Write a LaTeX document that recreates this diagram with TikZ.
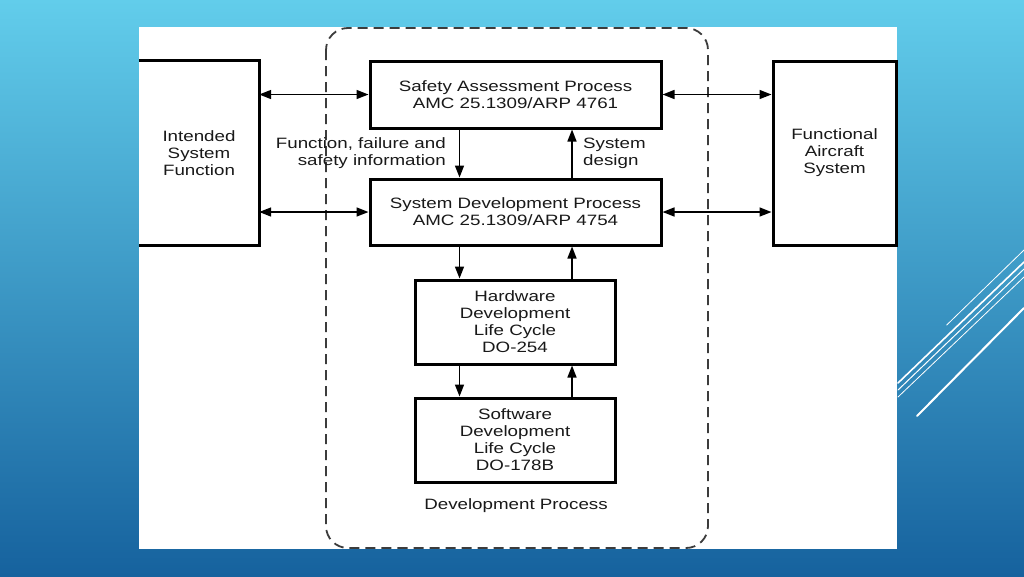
\documentclass[tikz,border=0pt]{standalone}
\usepackage{fontspec}
\setmainfont[FakeStretch=1.25]{Liberation Sans}
\usetikzlibrary{arrows.meta}
\definecolor{bgtop}{RGB}{98,205,235}
\definecolor{bgbot}{RGB}{22,98,158}
\definecolor{dashcol}{RGB}{60,60,60}
\definecolor{txtcol}{RGB}{25,25,25}
\tikzset{
  box/.style={draw=black, line width=3pt, fill=white, inner sep=0pt, align=center},
  openbox/.style={draw=none, inner sep=0pt, align=center},
  lbl/.style={inner sep=0pt},
  arr/.style={line width=1.6pt, -{Triangle[length=12pt,width=9pt]}},
  darr/.style={line width=1.6pt, {Triangle[length=12pt,width=9pt]}-{Triangle[length=12pt,width=9pt]}},
  deco/.style={white, line cap=round},
  txt/.style={font=\fontsize{15}{17}\selectfont, text=txtcol}
}
\begin{document}
\begin{tikzpicture}[x=1pt,y=-1pt]
\useasboundingbox (0,0) rectangle (1024,576);
\shade[top color=bgtop, bottom color=bgbot] (0,0) rectangle (1024,576);
% decorative lines
\draw[deco, line width=0.8pt] (946.7,325) -- (1024,250);
\draw[deco, line width=1.6pt] (898,383) -- (1024,262);
\draw[deco, line width=1pt] (898,390) -- (1024,269);
\draw[deco, line width=0.8pt] (898,397) -- (1024,277);
\draw[deco, line width=2pt] (917,416) -- (1024,308);
% white panel
\fill[white] (139,27) rectangle (897,549);
% dashed development process frame
\draw[dashcol, line width=1.8pt, dash pattern=on 10pt off 6pt, rounded corners=22pt] (326,28) rectangle (708,548);
% boxes
\node[box, txt, minimum width=291pt, minimum height=67pt] (sap) at (515.5,94.5) {Safety Assessment Process\\AMC 25.1309/ARP 4761};
\node[box, txt, minimum width=291pt, minimum height=66pt] (sdp) at (515.5,212) {System Development Process\\AMC 25.1309/ARP 4754};
\node[box, txt, minimum width=200pt, minimum height=84pt] (hw) at (515,322) {Hardware\\Development\\Life Cycle\\DO-254};
\node[box, txt, minimum width=200pt, minimum height=84pt] (sw) at (515,440) {Software\\Development\\Life Cycle\\DO-178B};
\node[openbox, txt, minimum width=120pt, minimum height=184pt] (isf) at (199,153) {Intended\\System\\Function};
\draw[line width=3pt] (isf.north west) -- (isf.north east) -- (isf.south east) -- (isf.south west);
\node[box, txt, minimum width=123pt, minimum height=184pt] (fas) at (834.5,153) {Functional\\Aircraft\\System};
% labels
\node[lbl, txt, align=right, anchor=east] (lab1) at (446,153) {Function, failure and\\safety information};
\node[lbl, txt, align=left, anchor=west] (lab2) at (583,153) {System\\design};
\node[lbl, txt] (devp) at (516,506) {Development Process};
% connectors
\draw[darr] (isf.east |- sap.west) -- (sap.west);
\draw[darr] (isf.east |- sdp.west) -- (sdp.west);
\draw[darr] (sap.east) -- (fas.west |- sap.east);
\draw[darr] (sdp.east) -- (fas.west |- sdp.east);
\draw[arr] (sap.south -| lab1.east) ++(13.5,0) coordinate (a1) -- (a1 |- sdp.north);
\draw[arr] (sdp.north -| lab2.west) ++(-11,0) coordinate (a2) -- (a2 |- sap.south);
\draw[arr] (sdp.south -| a1) -- (a1 |- hw.north);
\draw[arr] (hw.north -| a2) -- (a2 |- sdp.south);
\draw[arr] (hw.south -| a1) -- (a1 |- sw.north);
\draw[arr] (sw.north -| a2) -- (a2 |- hw.south);
\end{tikzpicture}
\end{document}
